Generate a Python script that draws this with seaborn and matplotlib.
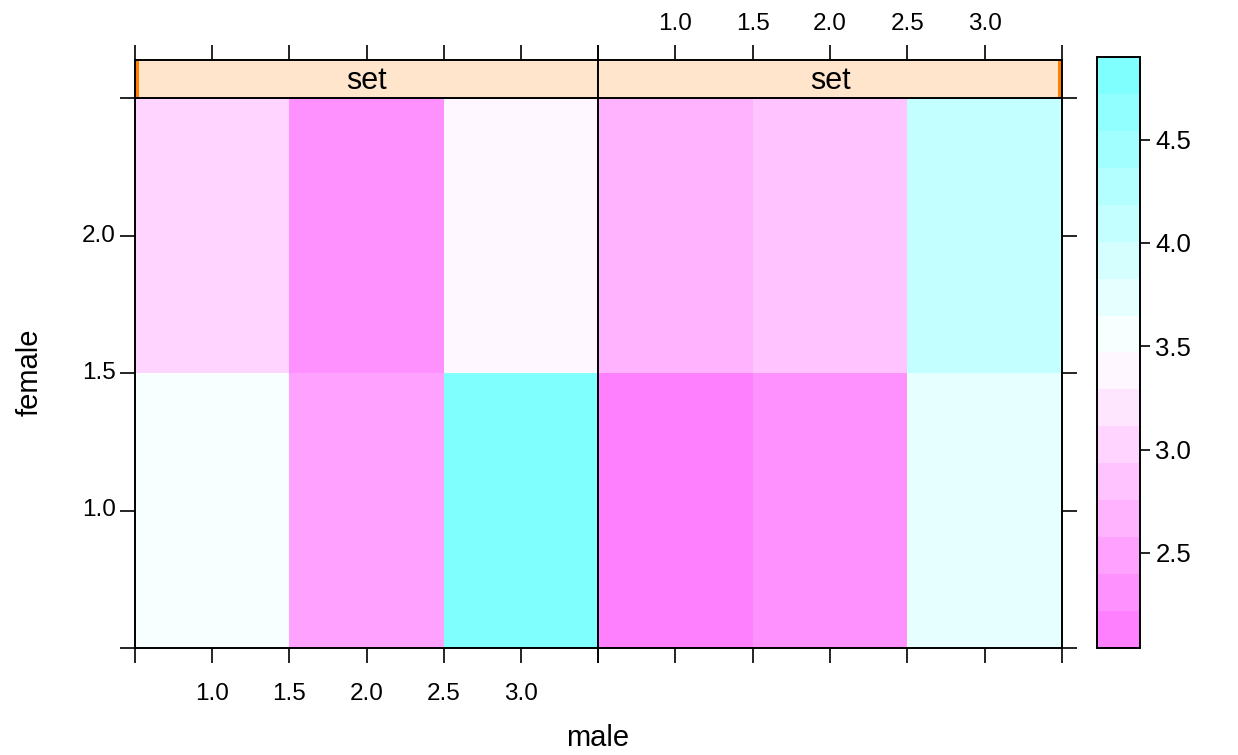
# Two-panel level plot (lattice style) with seaborn heatmaps

import numpy as np
import pandas as pd
import matplotlib
matplotlib.use('Agg')
import matplotlib.pyplot as plt
from matplotlib.colors import LinearSegmentedColormap, ListedColormap
import seaborn as sns

# data
male = [1, 2, 3]
female = [1, 2]
set1_female1 = [3.58, 2.40, 4.90]
set1_female2 = [2.97, 2.27, 3.35]
set2_female1 = [2.04, 2.25, 3.80]
set2_female2 = [2.62, 2.80, 4.05]
xtick_vals = [0.5, 1.0, 1.5, 2.0, 2.5, 3.0, 3.5]
xtick_labels = ['', '1.0', '1.5', '2.0', '2.5', '3.0', '']
ytick_vals = [0.5, 1.0, 1.5, 2.0, 2.5]
ytick_labels = ['', '1.0', '1.5', '2.0', '']
cbar_ticks = [2.5, 3.0, 3.5, 4.0, 4.5]

sns.set_theme(style='ticks')
plt.rcParams['font.family'] = ['Liberation Sans', 'DejaVu Sans']
plt.rcParams['text.color'] = 'black'
FS = 17.5
TL = 11  # tick length in points

# lattice default regions palette, 16 levels
base = LinearSegmentedColormap.from_list('cm', ['#FF80FF', '#FFFFFF', '#80FFFF'])
cmap = ListedColormap([base(i / 15) for i in range(16)])

allvals = set1_female1 + set1_female2 + set2_female1 + set2_female2
zmin, zmax = min(allvals), max(allvals)

W, H = 1238, 755
def box(x0, y0, x1, y1):
    return [x0 / W, 1 - y1 / H, (x1 - x0) / W, (y1 - y0) / H]

fig = plt.figure(figsize=(W / 100, H / 100), dpi=100)
ax1 = fig.add_axes(box(135, 98, 598, 648))
ax2 = fig.add_axes(box(598, 98, 1062, 648))
s1 = fig.add_axes(box(135, 60, 598, 98))
s2 = fig.add_axes(box(598, 60, 1062, 98))
cax = fig.add_axes(box(1097, 57, 1140, 648))

panels = [(ax1, s1, set1_female1, set1_female2), (ax2, s2, set2_female1, set2_female2)]
for i, (ax, st, f1, f2) in enumerate(panels):
    df = pd.DataFrame([f1, f2], index=female, columns=male)
    sns.heatmap(df, ax=ax, cmap=cmap, vmin=zmin, vmax=zmax, cbar=False)
    ax.set_xlim(0, 3)
    ax.set_ylim(0, 2)
    for sp in ax.spines.values():
        sp.set_visible(True)
        sp.set_linewidth(1.4)
        sp.set_color('black')
        sp.set_zorder(5)
    ax.set_xticks([v - 0.5 for v in xtick_vals])
    ax.set_yticks([v - 0.5 for v in ytick_vals])
    ax.set_xlabel('')
    ax.set_ylabel('')
    ax.tick_params(direction='out', length=TL, width=1.2, colors='black', labelsize=FS)
    ax.tick_params(axis='x', pad=14)
    ax.tick_params(axis='y', pad=3)
    if i == 0:
        ax.set_xticklabels(xtick_labels, rotation=0)
        ax.set_yticklabels(ytick_labels, rotation=0)
        ax.tick_params(axis='y', left=True, right=False, labelleft=True)
    else:
        ax.set_xticklabels([''] * len(xtick_vals))
        ax.set_yticklabels([''] * len(ytick_vals))
        ax.tick_params(axis='y', left=False, right=True, labelleft=False)

    # strip
    st.set_facecolor('#FFE5CC')
    st.set_xlim(0, 3)
    st.set_ylim(0, 1)
    st.set_yticks([])
    st.xaxis.tick_top()
    st.set_xticks([v - 0.5 for v in xtick_vals])
    st.set_xticklabels(xtick_labels if i == 1 else [''] * len(xtick_vals))
    st.tick_params(axis='x', direction='out', length=TL, width=1.2, colors='black',
                   labelsize=FS, pad=7, bottom=False)
    for sp in st.spines.values():
        sp.set_linewidth(1.4)
        sp.set_color('black')
    st.text(1.5, 0.45, 'set', ha='center', va='center', fontsize=22, color='black')
    if i == 0:
        st.axvspan(0, 0.025, color='#FF7F00', lw=0)
    else:
        st.axvspan(2.975, 3, color='#FF7F00', lw=0)

cb = fig.colorbar(ax1.collections[0], cax=cax)
cb.set_ticks(cbar_ticks)
cb.set_ticklabels(['%.1f' % t for t in cbar_ticks])
cb.outline.set_linewidth(1.4)
cb.outline.set_edgecolor('black')
cax.tick_params(direction='out', length=7, width=1.2, colors='black',
                labelsize=18.5, pad=4)

fig.text(598 / W, 1 - 738 / H, 'male', ha='center', va='center', fontsize=21, color='black')
fig.text(30 / W, 1 - 372 / H, 'female', ha='center', va='center', rotation=90,
         fontsize=21, color='black')

plt.savefig('out.png', dpi=100)
